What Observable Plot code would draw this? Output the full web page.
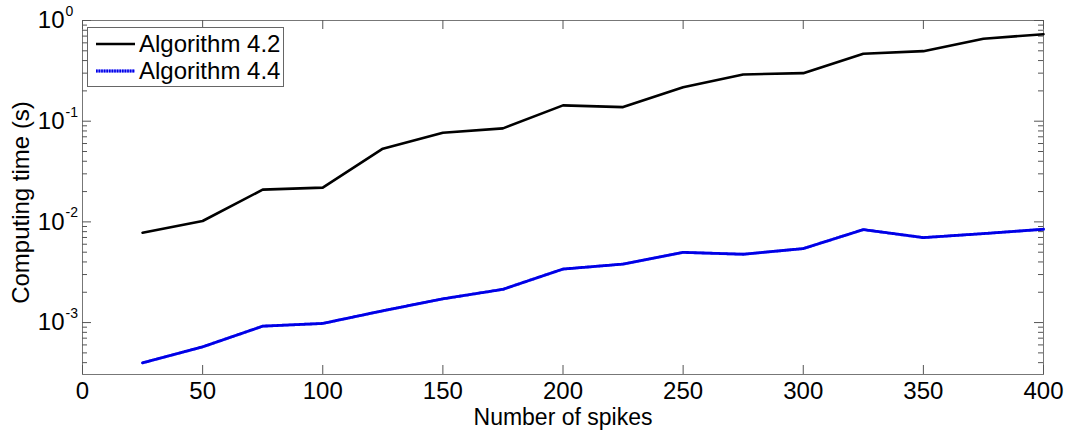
<!DOCTYPE html>
<html><head><meta charset="utf-8">
<script src="https://cdn.jsdelivr.net/npm/d3@7"></script>
<script src="https://cdn.jsdelivr.net/npm/@observablehq/plot@0.6"></script>
<style>
body{margin:0;background:#fff;font-family:"Liberation Sans",Arial,sans-serif;}
#wrap{position:relative;width:1068px;height:433px;}
#legend{position:absolute;left:87px;top:27px;width:195px;height:58px;border:1px solid #666;background:#fff;font-size:24px;color:#000;}
#legend .row{position:absolute;left:0;height:26px;width:195px;}
#legend svg{position:absolute;left:8px;top:0;}
#legend span{position:absolute;left:51px;top:0;line-height:26px;white-space:nowrap;}
</style></head>
<body><div id="wrap"></div>
<script>
const seriesNames = ["Algorithm 4.2", "Algorithm 4.4"];
const spikes = [25, 50, 75, 100, 125, 150, 175, 200, 225, 250, 275, 300, 325, 350, 375, 400];
const alg42 = [0.0078, 0.0102, 0.0209, 0.0219, 0.0533, 0.0769, 0.0848, 0.1435, 0.138, 0.217, 0.291, 0.300, 0.467, 0.496, 0.658, 0.731];
const alg44 = [0.000398, 0.000574, 0.000921, 0.00098, 0.00131, 0.00172, 0.00214, 0.0034, 0.00381, 0.00498, 0.00477, 0.00543, 0.00838, 0.00698, 0.00765, 0.00845];
const xTicks = [0, 50, 100, 150, 200, 250, 300, 350, 400];
const yMajor = [1e-3, 1e-2, 1e-1, 1];
const yExp = ["-3", "-2", "-1", "0"];
const yDomain = [3.05e-4, 1];

const yMinor = [1e-4, 1e-3, 1e-2, 1e-1].flatMap(d => [2,3,4,5,6,7,8,9].map(m => m * d)).filter(v => v >= yDomain[0] && v <= yDomain[1]);

const W = 1068, H = 433, mL = 82, mR = 25, mT = 20, mB = 59;
const plotW = W - mL - mR, plotH = H - mT - mB;
const d42 = spikes.map((x, i) => ({x, y: alg42[i]}));
const d44 = spikes.map((x, i) => ({x, y: alg44[i]}));
const tickCol = "#555";
const FS = 24;

const chart = Plot.plot({
  width: W, height: H,
  marginLeft: mL, marginRight: mR, marginTop: mT, marginBottom: mB,
  style: {fontSize: FS + "px", fontFamily: "'Liberation Sans', Arial, sans-serif", color: "#000", background: "#fff"},
  x: {domain: [0, 400], axis: null},
  y: {type: "log", domain: yDomain, axis: null},
  marks: [
    Plot.frame({stroke: "#777"}),
    Plot.tickY(yMajor, {y: d => d, stroke: tickCol, insetRight: plotW - 9}),
    Plot.tickY(yMajor, {y: d => d, stroke: tickCol, insetLeft: plotW - 9}),
    Plot.tickY(yMinor, {y: d => d, stroke: tickCol, insetRight: plotW - 5}),
    Plot.tickY(yMinor, {y: d => d, stroke: tickCol, insetLeft: plotW - 5}),
    Plot.tickX(xTicks, {x: d => d, stroke: tickCol, insetTop: plotH - 9}),
    Plot.tickX(xTicks, {x: d => d, stroke: tickCol, insetBottom: plotH - 9}),
    Plot.axisX({ticks: xTicks, tickSize: 0, tickPadding: 7, label: null, fill: "#000", fontSize: FS}),
    Plot.text(yMajor, {y: d => d, text: () => "10", frameAnchor: "left", textAnchor: "end", dx: -18, fill: "#000", fontSize: FS}),
    Plot.text(yMajor, {y: d => d, text: (d, i) => yExp[i], frameAnchor: "left", textAnchor: "start", dx: -17, dy: -9, fontSize: 14, fill: "#000"}),
    Plot.text(["Computing time (s)"], {text: d => d, frameAnchor: "left", textAnchor: "middle", lineAnchor: "middle", rotate: -90, dx: -61, dy: 5, fill: "#000", fontSize: FS}),
    Plot.text(["Number of spikes"], {text: d => d, frameAnchor: "bottom", textAnchor: "middle", lineAnchor: "top", dy: 34, fill: "#000", fontSize: 23}),
    Plot.line(d42, {x: "x", y: "y", stroke: "#000", strokeWidth: 2.6}),
    Plot.line(d44, {x: "x", y: "y", stroke: "#8a8aff", strokeWidth: 2.8}),
    Plot.line(d44, {x: "x", y: "y", stroke: "#0000e6", strokeWidth: 2.8, strokeDasharray: "1.6,1"})
  ]
});

const wrap = document.getElementById("wrap");
wrap.appendChild(chart);

const legend = document.createElement("div");
legend.id = "legend";
const rowStyles = [
  {top: 3, stroke: "#000", dash: null, under: null},
  {top: 30, stroke: "#0000e6", dash: "1.6,1", under: "#8a8aff"}
];
seriesNames.forEach((name, i) => {
  const r = rowStyles[i];
  const row = document.createElement("div");
  row.className = "row";
  row.style.top = r.top + "px";
  const ns = "http://www.w3.org/2000/svg";
  const svg = document.createElementNS(ns, "svg");
  svg.setAttribute("width", "40"); svg.setAttribute("height", "26");
  if (r.under) {
    const u = document.createElementNS(ns, "line");
    u.setAttribute("x1", 0); u.setAttribute("x2", 39); u.setAttribute("y1", 13); u.setAttribute("y2", 13);
    u.setAttribute("stroke", r.under); u.setAttribute("stroke-width", 2.8);
    svg.appendChild(u);
  }
  const l = document.createElementNS(ns, "line");
  l.setAttribute("x1", 0); l.setAttribute("x2", 39); l.setAttribute("y1", 13); l.setAttribute("y2", 13);
  l.setAttribute("stroke", r.stroke); l.setAttribute("stroke-width", i === 0 ? 2.6 : 2.8);
  if (r.dash) l.setAttribute("stroke-dasharray", r.dash);
  svg.appendChild(l);
  row.appendChild(svg);
  const sp = document.createElement("span");
  sp.textContent = name;
  row.appendChild(sp);
  legend.appendChild(row);
});
wrap.appendChild(legend);
</script>
</body></html>
